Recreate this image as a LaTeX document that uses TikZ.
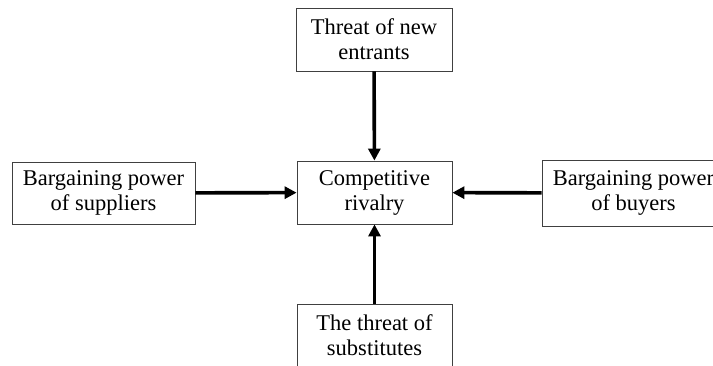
\documentclass[tikz,border=0pt]{standalone}
\usepackage{fontspec}
\setmainfont{Liberation Serif}
\usetikzlibrary{arrows.meta, positioning}

\begin{document}
\begin{tikzpicture}[x=1pt, y=1pt,
    force/.style = {draw=black!75, line width=0.8pt, align=center, inner sep=2pt,
                    font=\fontsize{22.5}{25}\selectfont},
    push/.style  = {-{Triangle[length=12pt, width=12pt]}, line width=3.6pt}]
    \useasboundingbox (0,0) rectangle (713,-365);
    \clip (0,0) rectangle (713,-365);

    \node (rivalry) [force, minimum width=155, minimum height=63] at (374.5,-192.5) {Competitive\\rivalry};
    \node (entrants) [force, minimum width=156, minimum height=63] at (374,-39.5) {Threat of new\\entrants};
    \node (suppliers) [force, minimum width=183, minimum height=62] at (103.5,-193) {Bargaining power\\of suppliers};
    \node (buyers) [force, minimum width=183, minimum height=66] at (633.5,-193) {Bargaining power\\of buyers};
    \node (substitutes) [force, minimum width=155, minimum height=63] at (374.5,-335.5) {The threat of\\substitutes};

    \path [push]
      (entrants) edge (rivalry)
      (suppliers) edge (rivalry)
      (buyers) edge (rivalry)
      (substitutes) edge (rivalry);
\end{tikzpicture}
\end{document}
